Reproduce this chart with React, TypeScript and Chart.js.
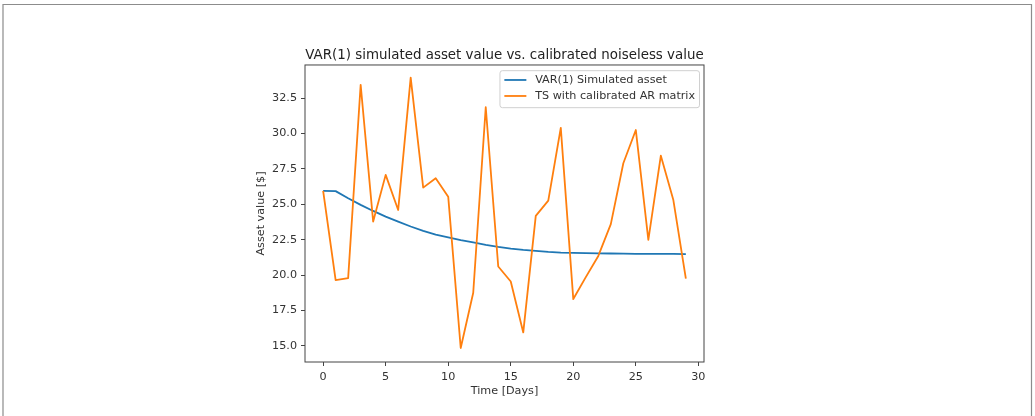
import { useEffect, useRef } from "react";
import { Chart, registerables } from "chart.js";

Chart.register(...registerables);

// Time axis (days)
const days = [
  0, 1, 2, 3, 4, 5, 6, 7, 8, 9, 10, 11, 12, 13, 14, 15, 16, 17, 18, 19, 20, 21,
  22, 23, 24, 25, 26, 27, 28, 29,
];

// VAR(1) simulated asset value [$]
const simulatedAsset = [
  25.95, 25.93, 25.43, 24.96, 24.53, 24.13, 23.78, 23.43, 23.12, 22.86, 22.66,
  22.46, 22.3, 22.13, 21.99, 21.87, 21.78, 21.71, 21.64, 21.59, 21.57, 21.55,
  21.53, 21.52, 21.51, 21.5, 21.5, 21.49, 21.49, 21.48,
];

// Time series generated with the calibrated AR matrix [$]
const calibratedSeries = [
  25.95, 19.64, 19.78, 33.45, 23.78, 27.08, 24.6, 33.95, 26.18, 26.84, 25.54,
  14.84, 18.75, 31.86, 20.6, 19.54, 15.94, 24.18, 25.26, 30.4, 18.3, 19.85,
  21.35, 23.6, 27.9, 30.25, 22.49, 28.44, 25.3, 19.75,
];

const seriesLabels = ["VAR(1) Simulated asset", "TS with calibrated AR matrix"];
const seriesColors = ["#1f77b4", "#ff7f0e"];

const xTickValues = [0, 5, 10, 15, 20, 25, 30];
const yTickValues = [15, 17.5, 20, 22.5, 25, 27.5, 30, 32.5];

const chartTitle = "VAR(1) simulated asset value vs. calibrated noiseless value";
const xAxisTitle = "Time [Days]";
const yAxisTitle = "Asset value [$]";

const FONT = "'DejaVu Sans', 'Liberation Sans', sans-serif";
const TEXT_COLOR = "#333333";
const SPINE_COLOR = "#444444";
const LABEL_SIZE = 11.2;
const LINE_WIDTH = 1.8;

// Outer frame, axes box and the in-plot legend
const decorPlugin = {
  id: "decor",
  beforeDraw(chart: any) {
    const { ctx, width, height } = chart;
    ctx.save();
    ctx.fillStyle = "#ffffff";
    ctx.fillRect(0, 0, width, height);
    ctx.strokeStyle = "#8c8c8c";
    ctx.lineWidth = 1.2;
    ctx.beginPath();
    ctx.moveTo(3, height);
    ctx.lineTo(3, 4.5);
    ctx.lineTo(1031.5, 4.5);
    ctx.lineTo(1031.5, height);
    ctx.stroke();
    ctx.restore();
  },
  afterDatasetsDraw(chart: any) {
    const { ctx, chartArea } = chart;
    const { left, top, right, bottom } = chartArea;
    ctx.save();
    ctx.strokeStyle = SPINE_COLOR;
    ctx.lineWidth = 1;
    ctx.strokeRect(left, top, right - left, bottom - top);

    // legend
    ctx.font = `${LABEL_SIZE}px ${FONT}`;
    const pad = 4.4;
    const handle = 22;
    const gap = 8.8;
    const labels = chart.data.datasets.map((d: any) => d.label as string);
    const textW = Math.max(...labels.map((l: string) => ctx.measureText(l).width));
    const boxW = pad + handle + gap + textW + pad;
    const boxH = 37;
    const bx = right - 4.5 - boxW;
    const by = top + 5.7;
    ctx.beginPath();
    ctx.roundRect(bx, by, boxW, boxH, 2.5);
    ctx.fillStyle = "rgba(255,255,255,0.8)";
    ctx.fill();
    ctx.strokeStyle = "#d0d0d0";
    ctx.lineWidth = 1;
    ctx.stroke();
    chart.data.datasets.forEach((d: any, i: number) => {
      const ry = by + 9.3 + i * 16;
      ctx.strokeStyle = d.borderColor;
      ctx.lineWidth = LINE_WIDTH;
      ctx.beginPath();
      ctx.moveTo(bx + pad, ry);
      ctx.lineTo(bx + pad + handle, ry);
      ctx.stroke();
      ctx.fillStyle = TEXT_COLOR;
      ctx.textBaseline = "middle";
      ctx.textAlign = "left";
      ctx.fillText(d.label, bx + pad + handle + gap, ry + 0.5);
    });
    ctx.restore();
  },
};

export default function App() {
  const canvasRef = useRef<HTMLCanvasElement | null>(null);

  useEffect(() => {
    const canvas = canvasRef.current;
    if (!canvas) return;

    const tickFont = { family: FONT, size: LABEL_SIZE };

    const chart = new Chart(canvas, {
      type: "line",
      data: {
        datasets: [
          {
            label: seriesLabels[0],
            data: days.map((d, i) => ({ x: d, y: simulatedAsset[i] })),
            borderColor: seriesColors[0],
            backgroundColor: seriesColors[0],
            borderWidth: LINE_WIDTH,
            borderJoinStyle: "round",
            pointRadius: 0,
            tension: 0,
            fill: false,
            order: 1,
          },
          {
            label: seriesLabels[1],
            data: days.map((d, i) => ({ x: d, y: calibratedSeries[i] })),
            borderColor: seriesColors[1],
            backgroundColor: seriesColors[1],
            borderWidth: LINE_WIDTH,
            borderJoinStyle: "round",
            pointRadius: 0,
            tension: 0,
            fill: false,
            order: 0,
          },
        ],
      },
      options: {
        responsive: false,
        maintainAspectRatio: false,
        animation: false,
        events: [],
        layout: { padding: { left: 250, right: 331, top: 36, bottom: 14 } },
        plugins: {
          legend: { display: false },
          tooltip: { enabled: false },
          title: {
            display: true,
            text: chartTitle,
            fullSize: false,
            color: "#222222",
            font: { family: FONT, size: 13.4, weight: "normal" },
            padding: { top: 11.5, bottom: 1.4 },
          },
        },
        scales: {
          x: {
            type: "linear",
            min: -1.45,
            max: 30.45,
            afterBuildTicks: (axis: any) => {
              axis.ticks = xTickValues.map((v) => ({ value: v }));
            },
            afterFit: (axis: any) => {
              axis.height = 40;
            },
            border: { display: false },
            grid: {
              display: true,
              drawOnChartArea: false,
              drawTicks: true,
              tickLength: 4,
              color: SPINE_COLOR,
              tickWidth: 1,
            },
            ticks: {
              font: tickFont,
              color: TEXT_COLOR,
              padding: 4.5,
              maxRotation: 0,
              autoSkip: false,
              callback: (v: any) => String(v),
            },
            title: {
              display: true,
              text: xAxisTitle,
              color: TEXT_COLOR,
              font: tickFont,
              padding: { top: 0, bottom: 4 },
            },
          },
          y: {
            type: "linear",
            min: 13.85,
            max: 34.85,
            afterBuildTicks: (axis: any) => {
              axis.ticks = yTickValues.map((v) => ({ value: v }));
            },
            afterFit: (axis: any) => {
              axis.width = 55;
            },
            border: { display: false },
            grid: {
              display: true,
              drawOnChartArea: false,
              drawTicks: true,
              tickLength: 4,
              color: SPINE_COLOR,
              tickWidth: 1,
            },
            ticks: {
              font: tickFont,
              color: TEXT_COLOR,
              padding: 4,
              autoSkip: false,
              callback: (v: any) => Number(v).toFixed(1),
            },
            title: {
              display: true,
              text: yAxisTitle,
              color: TEXT_COLOR,
              font: tickFont,
              padding: { top: 4, bottom: 0 },
            },
          },
        },
      },
      plugins: [decorPlugin],
    } as any);

    return () => chart.destroy();
  }, []);

  return (
    <div
      style={{
        position: "fixed",
        left: 0,
        top: 0,
        width: 1035,
        height: 416,
        background: "#ffffff",
      }}
    >
      <canvas
        ref={canvasRef}
        width={1035}
        height={416}
        style={{ display: "block", width: 1035, height: 416 }}
      />
    </div>
  );
}
